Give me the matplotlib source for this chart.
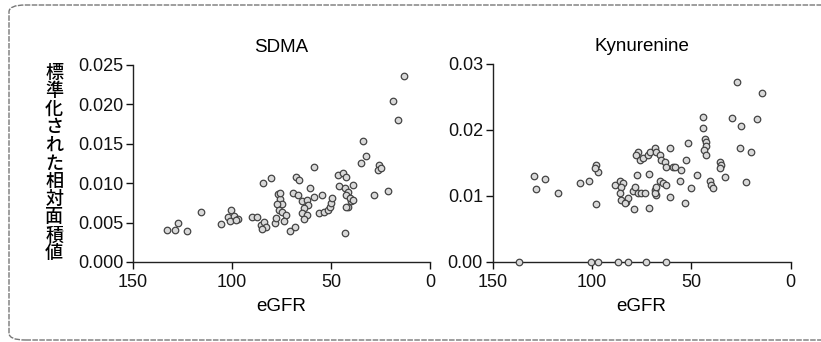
import matplotlib
matplotlib.use("Agg")
import matplotlib.pyplot as plt
from matplotlib.patches import FancyBboxPatch

# SDMA panel (eGFR, normalized relative area)
sdma_egfr = [133, 128.9, 127.2, 122.7, 115.9, 105.7,
             100.5, 102, 99, 97, 101, 98,
             89.7, 87.2, 85.5, 83.9, 83, 84.7, 84.4, 80.2, 78.5,
             77, 76, 75, 77.5, 76.5, 75, 73, 78, 74, 76,
             71, 68, 67.6, 66, 69.3, 66.8,
             64.5, 62, 61.5, 63.5, 64.5, 62, 63.5, 58.5, 60.9,
             58.4, 54.7, 55.9, 53.5, 51.5, 50.5, 50, 49.6,
             46.6, 44.1, 42.4, 46, 43.2, 41.6, 39.1, 42.4,
             41.6, 39.9, 40.7, 39.1, 42.4, 43.2,
             34, 34.9, 32.4, 28.6, 25.6, 26.5, 24.8, 21.5, 19, 16.1, 13.4]
sdma_val = [0.0041, 0.0040, 0.0050, 0.0039, 0.0064, 0.0048,
            0.0066, 0.0057, 0.0058, 0.0055, 0.0052, 0.0053,
            0.0057, 0.0057, 0.0047, 0.0051, 0.0044, 0.0042, 0.0100, 0.0106, 0.0049,
            0.0086, 0.0080, 0.0074, 0.0074, 0.0066, 0.0063, 0.0059, 0.0056, 0.0052, 0.0088,
            0.0039, 0.0045, 0.0108, 0.0104, 0.0087, 0.0085,
            0.0077, 0.0079, 0.0072, 0.0068, 0.0062, 0.0060, 0.0055, 0.0082, 0.0094,
            0.0121, 0.0085, 0.0062, 0.0064, 0.0066, 0.0070, 0.0075, 0.0081,
            0.0110, 0.0113, 0.0108, 0.0096, 0.0094, 0.0089, 0.0098, 0.0085,
            0.0070, 0.0077, 0.0081, 0.0079, 0.0070, 0.0037,
            0.0154, 0.0125, 0.0134, 0.0085, 0.0123, 0.0117, 0.0119, 0.0090, 0.0204, 0.0180, 0.0236]

# Kynurenine panel
kyn_egfr = [129.2, 128.3, 123.5, 117.1, 106.2, 101.5, 97.8, 97, 98.6, 97.8,
            136.8, 100.3, 97, 87, 81.9, 72.6, 62.5,
            88.6, 86, 84.4, 85.2, 86, 85.2, 82.7, 81.9, 83.5,
            79.4, 78.5, 76.8, 75.1, 73.5, 79, 71.3, 77.3, 71.3,
            76.8, 77.6, 76, 74.3, 71.8, 71, 68.4, 67.6,
            68.4, 67.6, 68.4, 67.6, 65.9, 65.1, 63.4, 62.5, 60.9,
            65.9, 64.2, 62.5, 60.9, 59.2, 58.4,
            55.9, 53.3, 55, 52.8, 51.6, 49.9, 46.9,
            44.1, 44.1, 43.3, 42.8, 42.4, 43.8, 42.4,
            40.7, 39.9, 39, 35.7, 34.8, 35.3, 33.2,
            29.3, 24.8, 27, 25.6, 19.7, 22.3, 16.9, 14.4]
kyn_val = [0.0131, 0.0111, 0.0126, 0.0105, 0.0119, 0.0122, 0.0147, 0.0137, 0.0142, 0.0088,
           0, 0, 0, 0, 0, 0, 0,
           0.0117, 0.0122, 0.0119, 0.0114, 0.0104, 0.0094, 0.0091, 0.0097, 0.0089,
           0.0107, 0.0114, 0.0104, 0.0104, 0.0105, 0.0081, 0.0082, 0.0132, 0.0134,
           0.0167, 0.0162, 0.0155, 0.0157, 0.0162, 0.0167, 0.0172, 0.0167,
           0.0109, 0.0101, 0.0104, 0.0114, 0.0162, 0.0155, 0.0152, 0.0144, 0.0172,
           0.0122, 0.0119, 0.0117, 0.0099, 0.0144, 0.0144,
           0.0122, 0.0089, 0.0139, 0.0155, 0.0181, 0.0112, 0.0132,
           0.0220, 0.0203, 0.0187, 0.0182, 0.0175, 0.0170, 0.0162,
           0.0122, 0.0117, 0.0112, 0.0152, 0.0147, 0.0142, 0.0129,
           0.0218, 0.0206, 0.0272, 0.0172, 0.0167, 0.0121, 0.0216, 0.0256]

ylabel = "標準化された相対面積値"

plt.rcParams["font.family"] = ["Liberation Sans", "DejaVu Sans"]

fig = plt.figure(figsize=(8.21, 3.42), dpi=100)

def setup(ax, title, yticks, fmt):
    ax.set_xlim(150, 0)
    ax.set_xticks([150, 100, 50, 0])
    ax.set_yticks(yticks)
    ax.set_ylim(yticks[0], yticks[-1])
    ax.set_yticklabels([fmt.format(v) for v in yticks])
    for s in ["top", "right"]:
        ax.spines[s].set_visible(False)
    for s in ["left", "bottom"]:
        ax.spines[s].set_linewidth(1.0)
        ax.spines[s].set_color("#222222")
    ax.tick_params(direction="out", length=5, width=1, labelsize=13, pad=2, colors="#111111")
    ax.tick_params(axis="x", pad=4)
    ax.set_title(title, fontsize=13.5, pad=9)
    ax.set_xlabel("eGFR", fontsize=13.5, labelpad=5)

ax1 = fig.add_axes([0.162, 0.234, 0.362, 0.576])
ax1.scatter(sdma_egfr, sdma_val, s=22, facecolor="#d9d9d9", edgecolor="#444444",
            linewidths=0.9, clip_on=False, zorder=3)
setup(ax1, "SDMA", [0, 0.005, 0.010, 0.015, 0.020, 0.025], "{:.3f}")

ax2 = fig.add_axes([0.600, 0.234, 0.363, 0.579])
ax2.scatter(kyn_egfr, kyn_val, s=22, facecolor="#d9d9d9", edgecolor="#444444",
            linewidths=0.9, clip_on=False, zorder=3)
setup(ax2, "Kynurenine", [0, 0.01, 0.02, 0.03], "{:.2f}")

fig.text(0.066, 0.522, "\n".join(ylabel), family=["Noto Sans CJK JP", "DejaVu Sans"],
         fontsize=13, fontweight="medium", ha="center", va="center", linespacing=1.0)

# rounded frame around the figure
frame = FancyBboxPatch((9 / 821, 1 - 340 / 342), 830 / 821, 335 / 342,
                       boxstyle="round,pad=0,rounding_size=0.02",
                       transform=fig.transFigure, fill=False,
                       edgecolor="#777777", linewidth=1.0, linestyle=(0, (4, 1)))
fig.patches.append(frame)

fig.savefig("out.png", dpi=100)
